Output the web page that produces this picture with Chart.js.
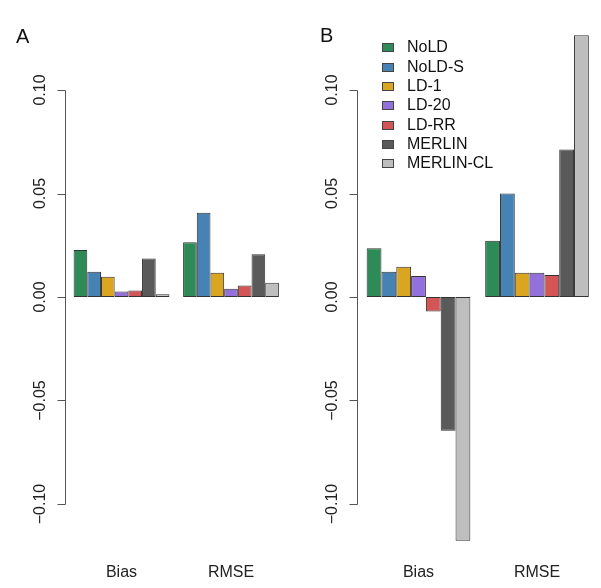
<!DOCTYPE html>
<html>
<head>
<meta charset="utf-8">
<script src="https://cdn.jsdelivr.net/npm/chart.js@4"></script>
<style>
  body { margin: 0; background: #fff; width: 601px; height: 588px; position: relative; overflow: hidden; font-family: "Liberation Sans", Arial, sans-serif; }
  .panel { position: absolute; top: 0; }
  .tag { position: absolute; font-size: 20px; line-height: 20px; color: #111; }
</style>
</head>
<body>
<div class="panel" style="left:0"><canvas id="chartA" width="300" height="588"></canvas></div>
<div class="panel" style="left:300px"><canvas id="chartB" width="301" height="588"></canvas></div>
<div class="tag" style="left:16px;top:26px">A</div>
<div class="tag" style="left:320px;top:25px">B</div>
<script>
const categories = ['Bias', 'RMSE']
const methods = ['NoLD', 'NoLD-S', 'LD-1', 'LD-20', 'LD-RR', 'MERLIN', 'MERLIN-CL']
const colors = ['#2e8b57', '#4682b4', '#daa520', '#9370db', '#d45555', '#5a5a5a', '#bebebe']

// panel A
const biasA = [0.0227, 0.0122, 0.0098, 0.0027, 0.0031, 0.0186, 0.0013]
const rmseA = [0.0264, 0.0407, 0.0117, 0.0040, 0.0056, 0.0206, 0.0069]
// panel B
const biasB = [0.0235, 0.0122, 0.0146, 0.0101, -0.0070, -0.0646, -0.1177]
const rmseB = [0.0272, 0.0500, 0.0117, 0.0117, 0.0106, 0.0712, 0.1265]

const yTicks = [-0.1, -0.05, 0, 0.05, 0.1]
const yTickLabels = ['−0.10', '−0.05', '0.00', '0.05', '0.10']

const FONT = '"Liberation Sans", Arial, sans-serif'

// R style axis: line only between outer ticks, rotated labels
const rAxis = {
  id: 'rAxis',
  afterDraw(chart) {
    const { ctx, chartArea } = chart
    const y = chart.scales.y
    const x0 = Math.round(chartArea.left - 2) + 0.5
    ctx.save()
    ctx.strokeStyle = '#555'
    ctx.lineWidth = 1
    ctx.beginPath()
    ctx.moveTo(x0, Math.round(y.getPixelForValue(yTicks[yTicks.length - 1])) + 0.5)
    ctx.lineTo(x0, Math.round(y.getPixelForValue(yTicks[0])) + 0.5)
    yTicks.forEach(v => {
      const py = Math.round(y.getPixelForValue(v)) + 0.5
      ctx.moveTo(x0 - 8, py)
      ctx.lineTo(x0, py)
    })
    ctx.stroke()
    ctx.fillStyle = '#222'
    ctx.font = '16px ' + FONT
    ctx.textAlign = 'center'
    ctx.textBaseline = 'alphabetic'
    yTicks.forEach((v, i) => {
      ctx.save()
      ctx.translate(x0 - 21, y.getPixelForValue(v))
      ctx.rotate(-Math.PI / 2)
      ctx.fillText(yTickLabels[i], 0, 0)
      ctx.restore()
    })
    ctx.restore()
  }
}

const legendBoxes = {
  id: 'legendBoxes',
  afterDraw(chart, args, opts) {
    if (!opts.show) return
    const { ctx, chartArea } = chart
    ctx.save()
    ctx.font = '16px ' + FONT
    ctx.textBaseline = 'middle'
    ctx.lineWidth = 1
    chart.data.datasets.forEach((ds, i) => {
      const y = Math.round(chartArea.top + 19.4 + i * 19.33)
      const x = Math.round(chartArea.left + 22.5)
      ctx.fillStyle = ds.backgroundColor
      ctx.fillRect(x, y - 4, 12, 9)
      ctx.strokeStyle = '#444'
      ctx.strokeRect(x + 0.5, y - 3.5, 11, 8)
      ctx.fillStyle = '#111'
      ctx.fillText(ds.label, x + 25, y + 1)
    })
    ctx.restore()
  }
}

const makePanel = (id, bias, rmse, yWidth, padRight, showLegend) => {
  const datasets = methods.map((m, i) => ({
    label: m,
    data: [bias[i], rmse[i]],
    backgroundColor: colors[i],
    borderColor: '#333',
    borderWidth: 1,
    borderSkipped: false
  }))

  return new Chart(id, {
    type: 'bar',
    data: { labels: categories, datasets: datasets },
    options: {
      responsive: false,
      animation: false,
      layout: { padding: { top: 27.9, right: padRight, left: 0, bottom: 0 } },
      datasets: { bar: { barPercentage: 1, categoryPercentage: 7 / 8 } },
      scales: {
        x: {
          grid: { display: false, drawTicks: false },
          border: { display: false },
          ticks: { color: '#222', font: { family: FONT, size: 16 }, padding: 18 },
          afterFit: s => { s.height = 42.6 }
        },
        y: {
          min: -0.12,
          max: 0.13,
          grid: { display: false, drawTicks: false },
          border: { display: false },
          ticks: { display: false },
          afterBuildTicks: s => { s.ticks = yTicks.map(v => ({ value: v })) },
          afterFit: s => { s.width = yWidth }
        }
      },
      plugins: {
        legend: { display: false },
        tooltip: { enabled: false },
        legendBoxes: { show: showLegend }
      }
    },
    plugins: [rAxis, legendBoxes]
  })
}

document.addEventListener('DOMContentLoaded', () => {
  makePanel('chartA', biasA, rmseA, 66.75, 14.25, false)
  makePanel('chartB', biasB, rmseB, 59.25, 4.75, true)
})
</script>
</body>
</html>
